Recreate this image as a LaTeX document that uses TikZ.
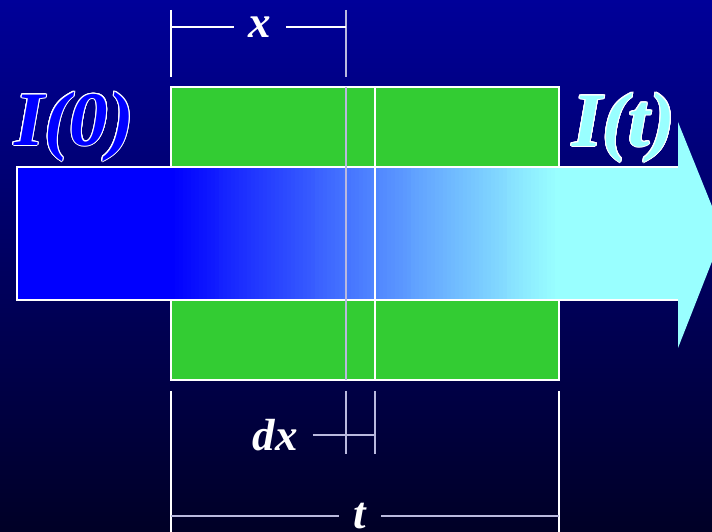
\documentclass[tikz,border=0pt]{standalone}
\usepackage{fontspec}
\setmainfont{Liberation Serif}
\usepackage{contour}
\contourlength{1pt}
\definecolor{bgtop}{RGB}{0,0,153}
\definecolor{bgbot}{RGB}{0,0,38}
\definecolor{slab}{RGB}{51,204,51}
\definecolor{beam}{RGB}{0,0,255}
\definecolor{outbeam}{RGB}{153,255,255}
\definecolor{dimgrey}{RGB}{185,185,222}
\begin{document}
\begin{tikzpicture}[x=1pt,y=1pt]
  \tikzstyle{lbl}=[text=white,font=\fontsize{45}{45}\selectfont\bfseries\itshape,inner sep=0pt,outer sep=15pt]
  \tikzstyle{big}=[font=\fontsize{77}{77}\selectfont\bfseries\itshape,inner sep=0pt]
  \tikzstyle{edge}=[white,line width=1.3pt]
  \tikzstyle{dim}=[line width=1.3pt]
  \clip (0,0) rectangle (712,532);
  \shade[top color=bgtop,bottom color=bgbot] (0,0) rectangle (712,532);
  % absorbing slab
  \fill[slab] (171,152) rectangle (559,445);
  \draw[edge] (171,152) rectangle (559,445);
  % beam through the slab
  \fill[beam] (17,232) rectangle (171,365);
  \foreach \i in {0,...,96} {
    \pgfmathtruncatemacro{\p}{round(100*\i/96)}
    \fill[outbeam!\p!beam] (171+4*\i,232) rectangle (175.5+4*\i,365);
  }
  \fill[outbeam] (559,232) -- (678,232) -- (678,184) -- (723,298.5) -- (678,410) -- (678,365) -- (559,365) -- cycle;
  \draw[edge] (678,365) -- (17,365) -- (17,232) -- (678,232);
  \draw[dim,dimgrey] (346,152) -- (346,445);
  \draw[edge] (375,152) -- (375,445);
  \node[big,text=beam] (izero) at (74,405) {\contour{white}{I(0)}};
  \node[big,text=outbeam] (it) at (624,404) {\contour{white}{I(t)}};
  % dimensions
  \node[lbl] (xlab) at (260,505) {x};
  \node[lbl] (dxlab) at (275,97) {dx};
  \node[lbl] (tlab) at (360,16) {t};
  \coordinate (xa) at (171,505);
  \coordinate (xb) at (346,505);
  \coordinate (dxb) at (375,97);
  \coordinate (ta) at (171,16);
  \coordinate (tb) at (559,16);
  \draw[dim,white] (171,522) -- (171,455);
  \draw[dim,dimgrey] (346,522) -- (346,455);
  \draw[dim,white] (xa) -- (xlab) -- (xb);
  \draw[dim,dimgrey] (346,141) -- (346,78) (375,141) -- (375,78);
  \draw[dim,dimgrey] (dxlab) -- (dxb);
  \draw[dim,white] (171,141) -- (171,0) (559,141) -- (559,0);
  \draw[dim,dimgrey] (ta) -- (tlab) -- (tb);
\end{tikzpicture}
\end{document}
